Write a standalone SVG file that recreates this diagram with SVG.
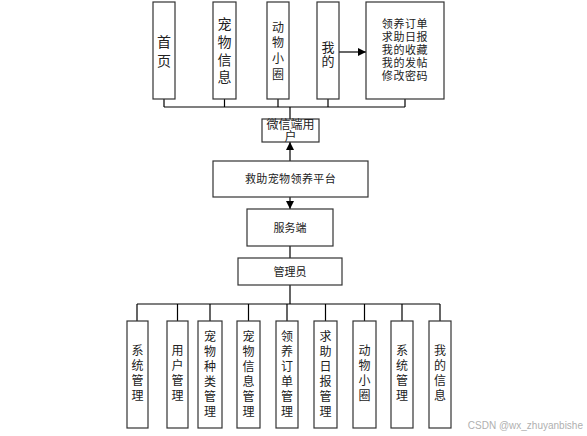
<svg xmlns="http://www.w3.org/2000/svg" width="587" height="436" viewBox="0 0 587 436">
<style>
.box{fill:#fff;stroke:#333;stroke-width:1.2}
.ln{fill:none;stroke:#000;stroke-width:1.2}
.t{font-family:"Noto Sans CJK SC","Liberation Sans",sans-serif;fill:#222;text-anchor:middle}
.t14{font-size:14px}
.t13{font-size:13px}
.t12{font-size:12px}
.t11{font-size:11px}
.wm{font-family:"Liberation Sans","Noto Sans",sans-serif;font-size:10px;fill:#b0b0b0;text-anchor:end}
</style>
<defs>
<marker id="ah" viewBox="0 0 10 10" refX="10" refY="5" markerWidth="8" markerHeight="8" markerUnits="userSpaceOnUse" orient="auto">
<path d="M0,0 L10,5 L0,10 z" fill="#000"/>
</marker>
</defs>
<rect width="587" height="436" fill="#fff"/>
<g id="connectors">
<path class="ln" d="M164,99 V107 M224.5,99 V107 M278,99 V107 M328,99 V107 M405,99 V107 M164,107 H405 M290,107 V119"/>
<path class="ln" d="M339,52 H366" marker-end="url(#ah)"/>
<path class="ln" d="M290,161 V142" marker-end="url(#ah)"/>
<path class="ln" d="M290,197 V209" marker-end="url(#ah)"/>
<path class="ln" d="M290,246 V258"/>
<path class="ln" d="M290,285 V304 M137,304 H440 M137,304 V321 M177.5,304 V321 M210,304 V321 M248.5,304 V321 M287,304 V321 M325.5,304 V321 M364.5,304 V321 M402,304 V321 M440,304 V321"/>
</g>
<g id="n_home">
<rect class="box" x="153" y="2" width="22" height="97"/>
<text class="t t14"><tspan x="164" y="47">首</tspan><tspan x="164" y="66">页</tspan></text>
</g>
<g id="n_petinfo">
<rect class="box" x="213" y="2" width="23" height="97"/>
<text class="t t14"><tspan x="224.5" y="29">宠</tspan><tspan x="224.5" y="47">物</tspan><tspan x="224.5" y="65">信</tspan><tspan x="224.5" y="82">息</tspan></text>
</g>
<g id="n_circle">
<rect class="box" x="267" y="2" width="22" height="97"/>
<text class="t t12"><tspan x="278" y="32">动</tspan><tspan x="278" y="47">物</tspan><tspan x="278" y="63">小</tspan><tspan x="278" y="79">圈</tspan></text>
</g>
<g id="n_mine">
<rect class="box" x="317" y="2" width="22" height="97"/>
<text class="t t13"><tspan x="328" y="52">我</tspan><tspan x="328" y="66">的</tspan></text>
</g>
<g id="n_minelist">
<rect class="box" x="366" y="2" width="78" height="97"/>
<text class="t t11" letter-spacing="0.6"><tspan x="405" y="28">领养订单</tspan><tspan x="405" y="41">求助日报</tspan><tspan x="405" y="54">我的收藏</tspan><tspan x="405" y="67">我的发帖</tspan><tspan x="405" y="80">修改密码</tspan></text>
</g>
<g id="n_wechat">
<rect class="box" x="262" y="119" width="57" height="23"/>
<text class="t t12"><tspan x="290.5" y="129">微信端用</tspan><tspan x="290.5" y="141">户</tspan></text>
</g>
<g id="n_platform">
<rect class="box" x="213" y="161" width="155" height="36"/>
<text class="t t11" x="290.5" y="183" letter-spacing="0.4">救助宠物领养平台</text>
</g>
<g id="n_server">
<rect class="box" x="247" y="209" width="86" height="37"/>
<text class="t t11" x="290" y="232">服务端</text>
</g>
<g id="n_admin">
<rect class="box" x="238" y="258" width="104" height="27"/>
<text class="t t11" x="290" y="276">管理员</text>
</g>
<g id="b_sys1">
<rect class="box" x="127" y="321" width="21" height="107"/>
<text class="t t12"><tspan x="137.5" y="355">系</tspan><tspan x="137.5" y="370">统</tspan><tspan x="137.5" y="385">管</tspan><tspan x="137.5" y="400">理</tspan></text>
</g>
<g id="b_user">
<rect class="box" x="167" y="321" width="21" height="107"/>
<text class="t t12"><tspan x="177.5" y="355">用</tspan><tspan x="177.5" y="370">户</tspan><tspan x="177.5" y="385">管</tspan><tspan x="177.5" y="400">理</tspan></text>
</g>
<g id="b_pettype">
<rect class="box" x="198" y="321" width="24" height="107"/>
<text class="t t12"><tspan x="210" y="341">宠</tspan><tspan x="210" y="356">物</tspan><tspan x="210" y="371">种</tspan><tspan x="210" y="386">类</tspan><tspan x="210" y="401">管</tspan><tspan x="210" y="416">理</tspan></text>
</g>
<g id="b_petinfo">
<rect class="box" x="237" y="321" width="23" height="107"/>
<text class="t t12"><tspan x="248.5" y="341">宠</tspan><tspan x="248.5" y="356">物</tspan><tspan x="248.5" y="371">信</tspan><tspan x="248.5" y="386">息</tspan><tspan x="248.5" y="401">管</tspan><tspan x="248.5" y="416">理</tspan></text>
</g>
<g id="b_adopt">
<rect class="box" x="276" y="321" width="22" height="107"/>
<text class="t t12"><tspan x="287" y="341">领</tspan><tspan x="287" y="356">养</tspan><tspan x="287" y="371">订</tspan><tspan x="287" y="386">单</tspan><tspan x="287" y="401">管</tspan><tspan x="287" y="416">理</tspan></text>
</g>
<g id="b_help">
<rect class="box" x="314" y="321" width="23" height="107"/>
<text class="t t12"><tspan x="325.5" y="341">求</tspan><tspan x="325.5" y="356">助</tspan><tspan x="325.5" y="371">日</tspan><tspan x="325.5" y="386">报</tspan><tspan x="325.5" y="401">管</tspan><tspan x="325.5" y="416">理</tspan></text>
</g>
<g id="b_circle">
<rect class="box" x="353" y="321" width="23" height="107"/>
<text class="t t12"><tspan x="364.5" y="355">动</tspan><tspan x="364.5" y="370">物</tspan><tspan x="364.5" y="385">小</tspan><tspan x="364.5" y="400">圈</tspan></text>
</g>
<g id="b_sys2">
<rect class="box" x="391" y="321" width="22" height="107"/>
<text class="t t12"><tspan x="402" y="355">系</tspan><tspan x="402" y="370">统</tspan><tspan x="402" y="385">管</tspan><tspan x="402" y="400">理</tspan></text>
</g>
<g id="b_myinfo">
<rect class="box" x="429" y="321" width="22" height="107"/>
<text class="t t12"><tspan x="440" y="355">我</tspan><tspan x="440" y="370">的</tspan><tspan x="440" y="385">信</tspan><tspan x="440" y="400">息</tspan></text>
</g>
<text class="wm" x="583" y="429">CSDN @wx_zhuyanbishe</text>
</svg>
